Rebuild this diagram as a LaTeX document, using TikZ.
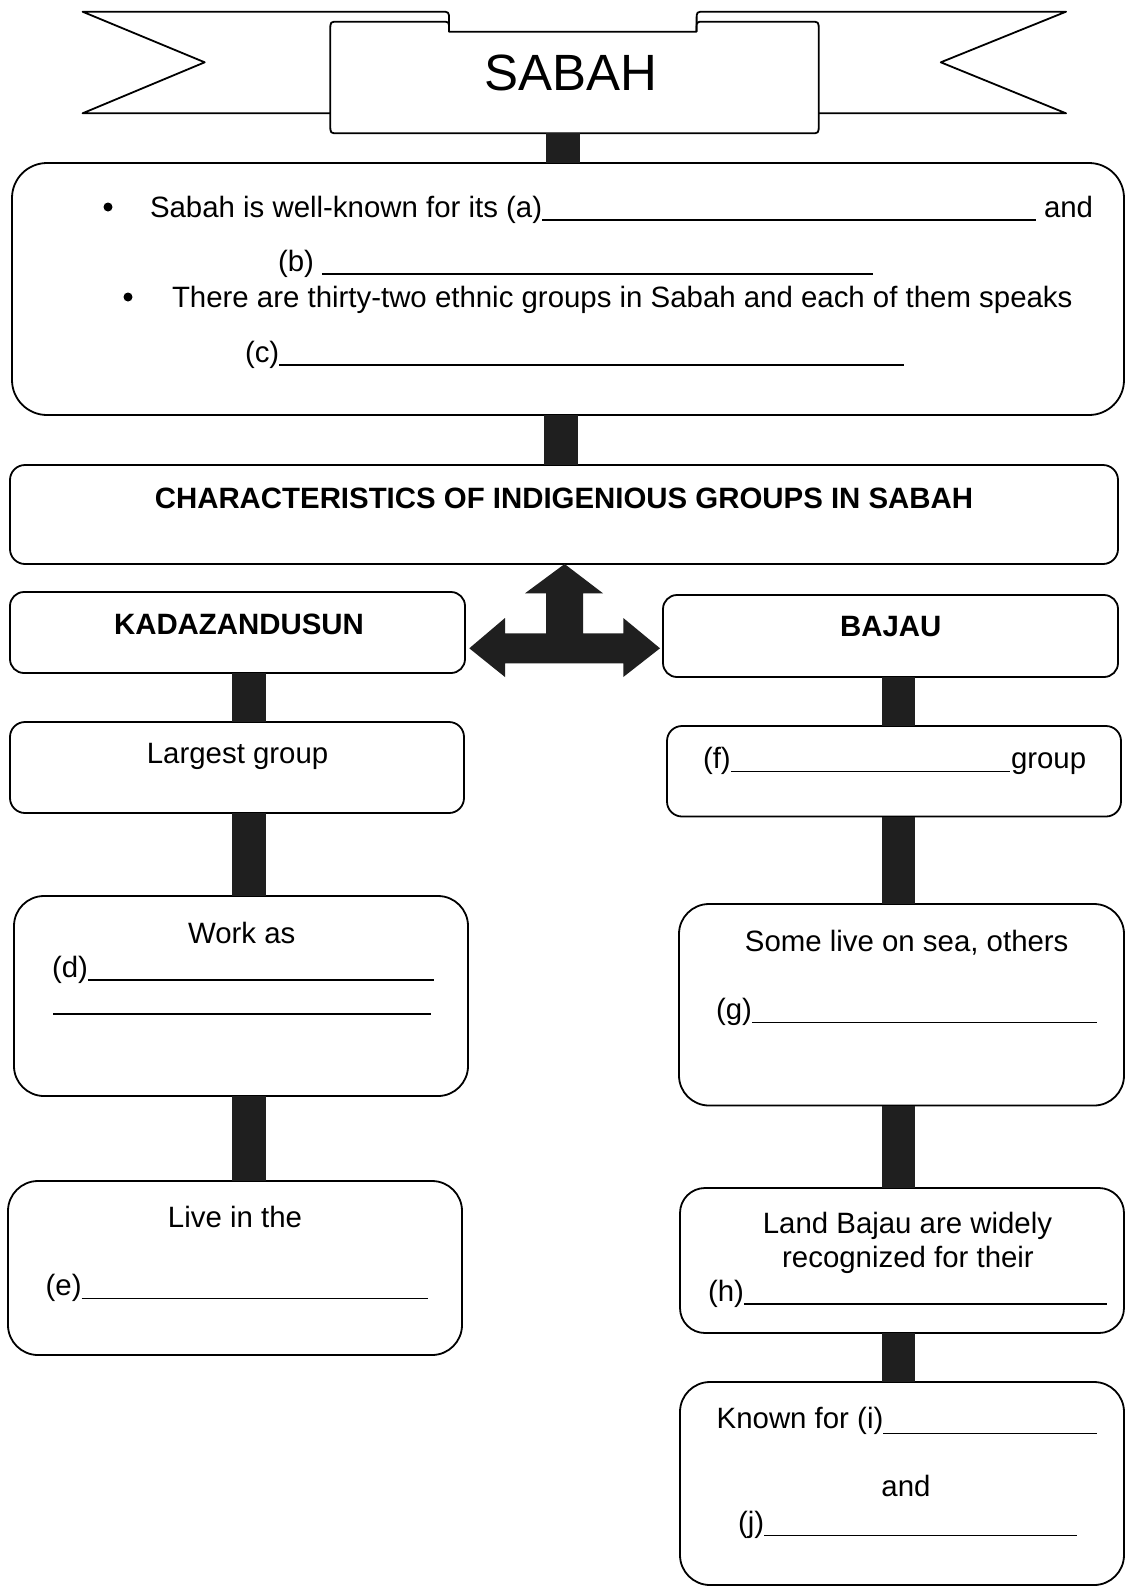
\documentclass[tikz,border=0pt]{standalone}
\usepackage{fontspec}
\setmainfont{Liberation Sans}
\begin{document}
\begin{tikzpicture}[x=1pt,y=-1pt,
  box/.style={draw, line width=1.8pt, fill=white, inner sep=0pt, outer sep=0pt},
  txt/.style={inner sep=0pt, outer sep=0pt, font=\fontsize{29.4}{35}\selectfont},
  btxt/.style={inner sep=0pt, outer sep=0pt, font=\fontsize{29.4}{35}\selectfont\bfseries},
  blank/.style={line width=1.3pt},
  bar/.style={line width=33.5pt, draw=black!88},
  dot/.style={circle, fill, inner sep=0pt, minimum size=9pt},
  banner/.style={draw, line width=1.8pt, fill=white, line join=round}]
\useasboundingbox (0,0) rectangle (1126,1588);
\fill[white] (0,0) rectangle (1126,1588);

% ---------- banner ----------
\draw[banner] (330.3,113.3) -- (82.6,113.3) -- (204.7,62.3) -- (82.6,11.7) -- (441,11.7)
  .. controls (449,11.7) .. (449,19.7) -- (449,31.7);
\draw[banner] (818.7,113.3) -- (1066,113.3) -- (940.8,62.3) -- (1066,11.7) -- (704.6,11.7)
  .. controls (696.6,11.7) .. (696.6,19.7) -- (696.6,31.7);
\draw[banner] (449,31.7) -- (696.6,31.7) -- (696.6,28.7)
  .. controls (696.6,21.7) .. (703.6,21.7) -- (810.7,21.7)
  .. controls (818.7,21.7) .. (818.7,29.7) -- (818.7,125.3)
  .. controls (818.7,133.3) .. (810.7,133.3) -- (338.3,133.3)
  .. controls (330.3,133.3) .. (330.3,125.3) -- (330.3,29.7)
  .. controls (330.3,21.7) .. (338.3,21.7) -- (442,21.7)
  .. controls (449,21.7) .. (449,28.7) -- cycle;
\node[inner sep=0pt, font=\fontsize{51}{60}\selectfont, anchor=base] (title) at (571,90) {SABAH};
\coordinate (bannerbot) at (563,133.3);

% ---------- boxes ----------
\node[box, rounded corners=35pt, minimum width=1112pt, minimum height=252pt] (box1) at (568,289) {};
\node[box, rounded corners=15pt, minimum width=1108pt, minimum height=99pt] (head) at (564,514.5) {};
\node[box, rounded corners=14pt, minimum width=455pt, minimum height=81pt] (kad) at (237.5,632.5) {};
\node[box, rounded corners=14pt, minimum width=455pt, minimum height=82pt] (baj) at (890.5,636) {};
\node[box, rounded corners=15pt, minimum width=454pt, minimum height=91pt] (lrg) at (237,767.5) {};
\node[box, rounded corners=30pt, minimum width=454pt, minimum height=200pt] (wrk) at (241,996) {};
\node[box, rounded corners=30pt, minimum width=454pt, minimum height=174pt] (liv) at (235,1268) {};
\node[box, rounded corners=15pt, minimum width=454pt, minimum height=90.5pt] (fbx) at (894,771.25) {};
\node[box, rounded corners=30pt, minimum width=445pt, minimum height=201.5pt] (gbx) at (901.5,1004.75) {};
\node[box, rounded corners=25pt, minimum width=444pt, minimum height=145pt] (hbx) at (902,1260.5) {};
\node[box, rounded corners=30pt, minimum width=444pt, minimum height=203pt] (jbx) at (902,1483.5) {};

% ---------- connector bars ----------
\coordinate (cx0) at (563,0);
\coordinate (cx1) at (561,0);
\coordinate (lx) at (249,0);
\coordinate (rx) at (898.5,0);
\draw[bar] (bannerbot) -- (box1.north -| cx0);
\draw[bar] (box1.south -| cx1) -- (head.north -| cx1);
\draw[bar] (kad.south -| lx) -- (lrg.north -| lx);
\draw[bar] (lrg.south -| lx) -- (wrk.north -| lx);
\draw[bar] (wrk.south -| lx) -- (liv.north -| lx);
\draw[bar] (baj.south -| rx) -- (fbx.north -| rx);
\draw[bar] (fbx.south -| rx) -- (gbx.north -| rx);
\draw[bar] (gbx.south -| rx) -- (hbx.north -| rx);
\draw[bar] (hbx.south -| rx) -- (jbx.north -| rx);

% ---------- three-way arrow ----------
\fill[black!88] (564.6,564) -- (603,593.3) -- (583,593.3) -- (583,633.3) -- (623.3,633.3)
  -- (623.3,618) -- (660,648.3) -- (623.3,677) -- (623.3,663.3) -- (505,663.3)
  -- (505,677) -- (469.3,648.3) -- (505,618) -- (505,633.3) -- (546,633.3)
  -- (546,593.3) -- (525,593.3) -- cycle;

% ---------- box 1 text ----------
\node[dot] (d1) at (108,207) {};
\node[txt, anchor=base west] (ta) at (150,217) {Sabah is well-known for its (a)};
\draw[blank] ([yshift=-3pt]ta.base east) -- ++(494,0);
\node[txt, anchor=base west] (tand) at (1044,217) {and};
\node[txt, anchor=base west] (tb) at (278,271) {(b)};
\draw[blank] ([xshift=8pt,yshift=-3pt]tb.base east) -- ++(551,0);
\node[dot] (d2) at (128,297) {};
\node[txt, anchor=base west] (tthere) at (172,307.5) {There are thirty-two ethnic groups in Sabah and each of them speaks};
\node[txt, anchor=base west] (tc) at (245,362) {(c)};
\draw[blank] ([yshift=-3pt]tc.base east) -- ++(625,0);

% ---------- headings ----------
\node[btxt, anchor=base] (thead) at (564,508.3) {CHARACTERISTICS OF INDIGENIOUS GROUPS IN SABAH};
\node[btxt, anchor=base] (tkad) at (239,634) {KADAZANDUSUN};
\node[btxt, anchor=base] (tbaj) at (890.7,636.7) {BAJAU};

% ---------- left column ----------
\node[txt, anchor=base] (tlrg) at (237.6,763) {Largest group};
\node[txt, anchor=base] (twrk) at (241.7,943.6) {Work as};
\node[txt, anchor=base west] (td) at (52,977) {(d)};
\draw[blank] ([yshift=-3pt]td.base east) -- ++(346,0);
\draw[blank] (53.3,1014) -- (431,1014);
\node[txt, anchor=base] (tliv) at (235,1227) {Live in the};
\node[txt, anchor=base west] (te) at (45.7,1295.7) {(e)};
\draw[blank] ([yshift=-3pt]te.base east) -- ++(346,0);

% ---------- right column ----------
\node[txt, anchor=base west] (tf) at (703,768.4) {(f)};
\draw[blank] ([yshift=-3pt]tf.base east) -- ++(279,0);
\node[txt, anchor=base west] (tgroup) at (1011,768.4) {group};
\node[txt, anchor=base] (tsome) at (906.7,951) {Some live on sea, others};
\node[txt, anchor=base west] (tg) at (716,1019.4) {(g)};
\draw[blank] ([yshift=-3pt]tg.base east) -- ++(345,0);
\node[txt, anchor=base] (tland) at (907.5,1233.7) {Land Bajau are widely};
\node[txt, anchor=base] (trec) at (908,1267.4) {recognized for their};
\node[txt, anchor=base west] (th) at (708,1301) {(h)};
\draw[blank] ([yshift=-3pt]th.base east) -- ++(363,0);
\node[txt, anchor=base west] (ti) at (716.7,1428.3) {Known for (i)};
\draw[blank] ([yshift=-5pt]ti.base east) -- ++(214,0);
\node[txt, anchor=base] (tand2) at (906,1496.7) {and};
\node[txt, anchor=base west] (tj) at (738,1532.7) {(j)};
\draw[blank] ([yshift=-3pt]tj.base east) -- ++(313,0);
\end{tikzpicture}
\end{document}
